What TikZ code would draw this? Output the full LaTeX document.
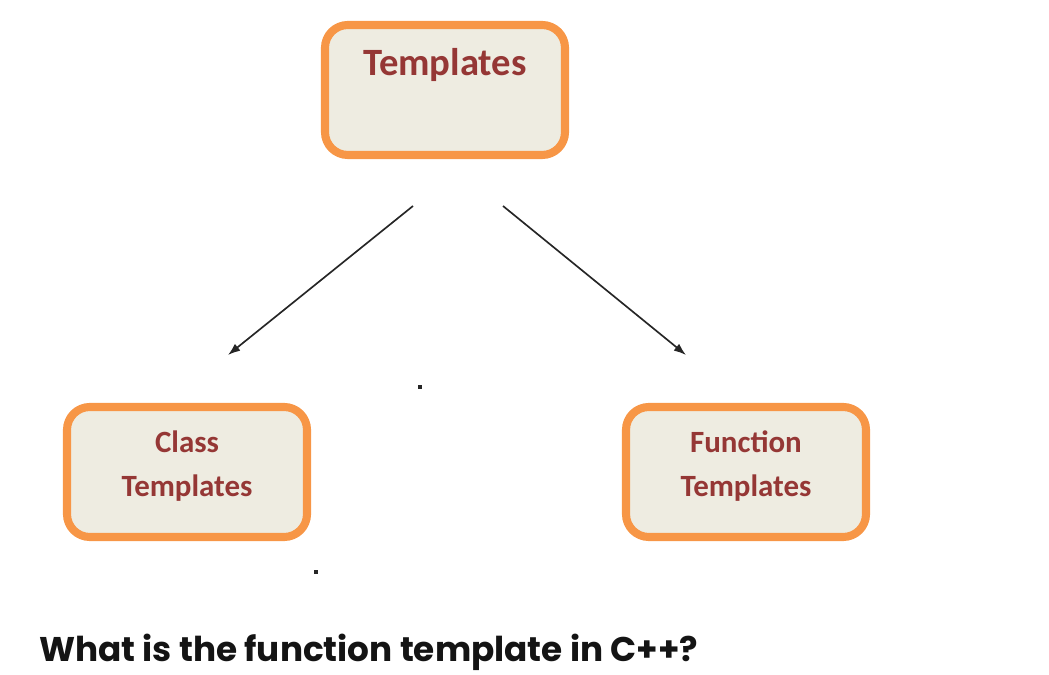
\documentclass[tikz,border=0pt]{standalone}
\usepackage{fontspec}
\setmainfont{Carlito}
\newfontfamily\headfont{Poppins}
\usetikzlibrary{arrows.meta, positioning}
\definecolor{boxorange}{HTML}{F79646}
\definecolor{boxfill}{HTML}{EEECE1}
\definecolor{boxtext}{HTML}{953735}

\begin{document}
\begin{tikzpicture}[
  x=0.02cm, y=-0.02cm,
  box/.style={rectangle, rounded corners=13pt, draw=boxorange, fill=boxfill, line width=4.6pt, minimum width=240*0.02cm, minimum height=130*0.02cm, inner sep=0pt},
  boxlabel/.style={text=boxtext, font=\bfseries\fontsize{17.6}{25.5}\selectfont, align=center},
  link/.style={-{Latex[length=7pt, width=5pt]}, line width=0.95pt, black!85},
  speck/.style={fill=black!85, inner sep=0pt, minimum size=2.2pt}
]
  \useasboundingbox (0,0) rectangle (1049,675);

  \node[box] (tpl) at (445,90) {};
  \node[text=boxtext, font=\bfseries\fontsize{22}{26}\selectfont, anchor=base] (tpltext) at (445,76) {Templates};
  \node[box] (cls) at (187,472) {};
  \node[boxlabel] (clstext) at (187,466) {Class\\Templates};
  \node[box] (fun) at (746,472) {};
  \node[boxlabel] (funtext) at (746,466) {Function\\Templates};

  % Pfeile
  \coordinate (lstart) at (413,206);
  \coordinate (lend) at (228,355);
  \coordinate (rstart) at (503,206);
  \coordinate (rend) at (686,355);
  \draw[link] (lstart) -- (lend);
  \draw[link] (rstart) -- (rend);

  \node[speck] (dotmid) at (420,387) {};
  \node[speck] (dotlow) at (316,572) {};

  \node[anchor=base west, font=\headfont\bfseries\fontsize{19.5}{24}\selectfont, text=black!92] (caption) at (33,662) {What is the function template in C++?};
\end{tikzpicture}
\end{document}
